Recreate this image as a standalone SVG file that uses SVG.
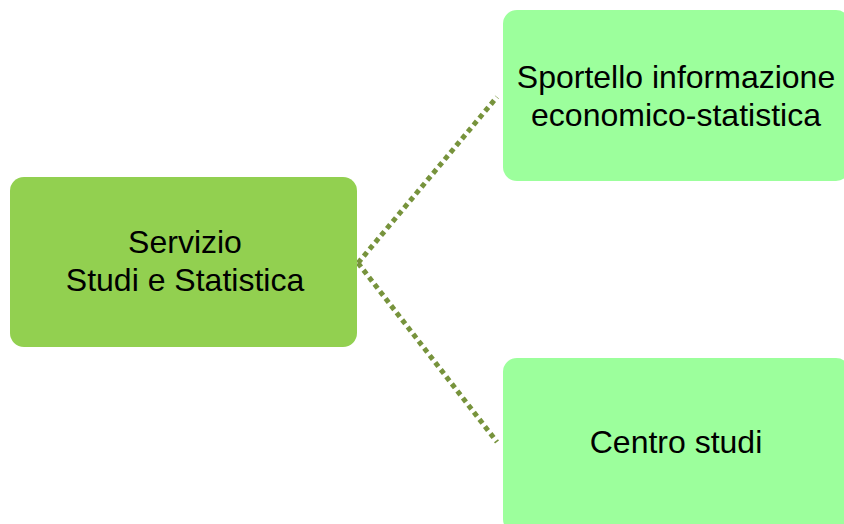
<svg xmlns="http://www.w3.org/2000/svg" width="844" height="524" viewBox="0 0 844 524">
<style>
.t{font-family:"Liberation Sans",Arial,sans-serif;font-size:32px;fill:#000;text-anchor:middle}
.c{fill:none;stroke:#77933C;stroke-width:5;stroke-dasharray:5 4}
</style>
<rect width="844" height="524" fill="#fff"/>
<g id="connectors">
<path class="c" d="M358 263 L497 97"/>
<path class="c" d="M358 263 L497 442"/>
</g>
<g id="n1">
<rect x="10" y="177" width="347" height="170" rx="14" fill="#92D050"/>
<text class="t" x="185" y="253">Servizio</text>
<text class="t" x="185" y="291">Studi e Statistica</text>
</g>
<g id="n2">
<rect x="503" y="10" width="347" height="171" rx="14" fill="#9CFF9C"/>
<text class="t" x="676" y="88">Sportello informazione</text>
<text class="t" x="676" y="126">economico-statistica</text>
</g>
<g id="n3">
<rect x="503" y="358" width="347" height="175" rx="14" fill="#9CFF9C"/>
<text class="t" x="676" y="453">Centro studi</text>
</g>
</svg>
